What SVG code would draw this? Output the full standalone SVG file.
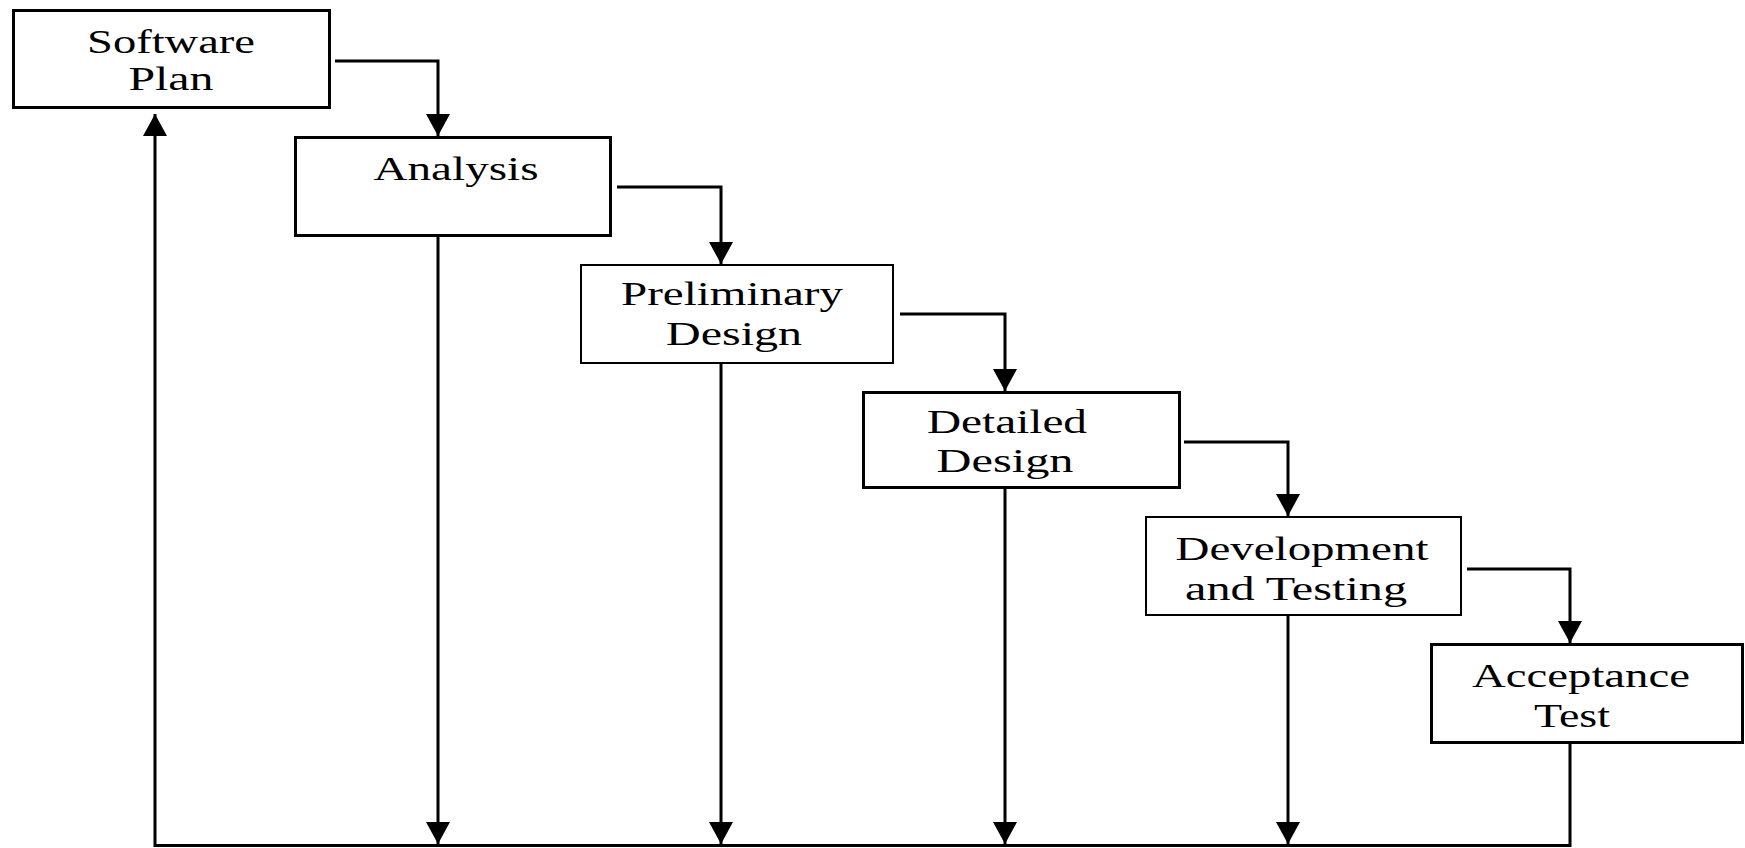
<svg xmlns="http://www.w3.org/2000/svg" width="1745" height="848" viewBox="0 0 1745 848">
<style>
.box{fill:#fff;stroke:#000;stroke-width:3}
.thin{stroke-width:2}
.lbl{font-family:"Liberation Serif","Times New Roman",serif;font-size:34px;fill:#000;text-anchor:middle}
.con{fill:none;stroke:#000;stroke-width:3}
</style>
<defs>
<marker id="ah" markerUnits="userSpaceOnUse" markerWidth="22" markerHeight="24" refX="22" refY="12" orient="auto">
<path d="M0,0 L22,12 L0,24 z" fill="#000"/>
</marker>
</defs>
<rect width="1745" height="848" fill="#fff"/>
<g id="connectors">
<path class="con" d="M335,61 H438 V136" marker-end="url(#ah)"/>
<path class="con" d="M617,187 H721 V264" marker-end="url(#ah)"/>
<path class="con" d="M900,314 H1005 V391" marker-end="url(#ah)"/>
<path class="con" d="M1184,442 H1288 V516" marker-end="url(#ah)"/>
<path class="con" d="M1467,569 H1570 V643" marker-end="url(#ah)"/>
<path class="con" d="M438,237 V844" marker-end="url(#ah)"/>
<path class="con" d="M721,364 V844" marker-end="url(#ah)"/>
<path class="con" d="M1005,489 V844" marker-end="url(#ah)"/>
<path class="con" d="M1288,616 V844" marker-end="url(#ah)"/>
<path class="con" d="M1570,744 V845.5 H155 V114" marker-end="url(#ah)"/>
</g>
<g id="software-plan">
<rect class="box" x="13.5" y="10.5" width="316" height="97"/>
<text class="lbl" x="171" y="53" textLength="168" lengthAdjust="spacingAndGlyphs">Software</text>
<text class="lbl" x="171" y="90" textLength="85" lengthAdjust="spacingAndGlyphs">Plan</text>
</g>
<g id="analysis">
<rect class="box" x="295.5" y="137.5" width="315" height="98"/>
<text class="lbl" x="456" y="180" textLength="165" lengthAdjust="spacingAndGlyphs">Analysis</text>
</g>
<g id="preliminary-design">
<rect class="box thin" x="581" y="265" width="312" height="98"/>
<text class="lbl" x="732" y="305" textLength="222" lengthAdjust="spacingAndGlyphs">Preliminary</text>
<text class="lbl" x="734" y="345" textLength="136" lengthAdjust="spacingAndGlyphs">Design</text>
</g>
<g id="detailed-design">
<rect class="box" x="863.5" y="392.5" width="316" height="95"/>
<text class="lbl" x="1007" y="433" textLength="160" lengthAdjust="spacingAndGlyphs">Detailed</text>
<text class="lbl" x="1005" y="472" textLength="137" lengthAdjust="spacingAndGlyphs">Design</text>
</g>
<g id="development-testing">
<rect class="box thin" x="1146" y="517" width="315" height="98"/>
<text class="lbl" x="1302" y="560" textLength="253" lengthAdjust="spacingAndGlyphs">Development</text>
<text class="lbl" x="1296" y="600" textLength="222" lengthAdjust="spacingAndGlyphs">and Testing</text>
</g>
<g id="acceptance-test">
<rect class="box" x="1431.5" y="644.5" width="311" height="98"/>
<text class="lbl" x="1581" y="687" textLength="218" lengthAdjust="spacingAndGlyphs">Acceptance</text>
<text class="lbl" x="1572" y="727" textLength="76" lengthAdjust="spacingAndGlyphs">Test</text>
</g>
</svg>
